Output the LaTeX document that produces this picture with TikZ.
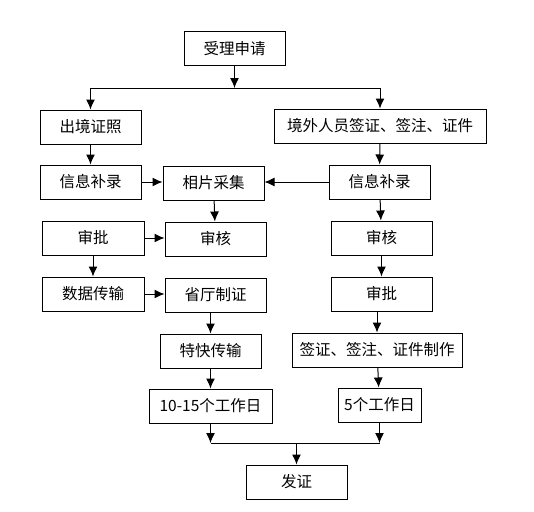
\documentclass[tikz,border=0pt]{standalone}
\usepackage{fontspec}
\setmainfont{Noto Sans CJK SC}
\usepackage{tikz}
\usetikzlibrary{arrows.meta, positioning, calc}
\newcommand{\boxh}{34pt}
\newcommand{\size}{\fontsize{15.5}{18}\selectfont}
\tikzset{
%     shape
    box/.style={draw, line width=1pt, minimum width=#1, minimum height=\boxh, inner sep=0pt, font=\size, anchor=center},
    arrow/.style={-{Latex[length=10pt, width=9pt]}, line width=1pt},
    line/.style={line width=1pt},
}
\begin{document}
\begin{tikzpicture}[x=1pt, y=-1pt]
        \useasboundingbox (0,0) rectangle (534,511);
        % top
        \node (apply) [box=101pt, minimum height=33pt] at (234.5,48.5) {受理申请};
        \node (exit) [box=101pt] at (90.5,127) {出境证照};
        \node (foreign) [box=212pt] at (380,126) {境外人员签证、签注、证件};
        % left column
        \node (infoL) [box=101pt] at (90.5,182) {信息补录};
        \node (approveL) [box=102pt] at (93,238) {审批};
        \node (data) [box=102pt] at (93,294) {数据传输};
        % middle column
        \node (photo) [box=101pt] at (213.5,183) {相片采集};
        \node (reviewM) [box=101pt] at (215.5,239) {审核};
        \node (prov) [box=101pt] at (215.5,295) {省厅制证};
        \node (express) [box=101pt] at (210.5,351) {特快传输};
        \node (days15) [box=123pt] at (210.5,406) {10-15个工作日};
        % right column
        \node (infoR) [box=101pt] at (379.5,182) {信息补录};
        \node (reviewR) [box=101pt] at (381.5,238) {审核};
        \node (approveR) [box=101pt] at (381.5,294) {审批};
        \node (make) [box=170pt] at (377,350) {签证、签注、证件制作};
        \node (days5) [box=83pt] at (379.5,405) {5个工作日};
        % bottom
        \node (issue) [box=101pt] at (296.5,482) {发证};
        % split and join
        \coordinate (split) at (apply|-0,88);
        \coordinate (splitL) at (exit|-split);
        \coordinate (splitR) at (foreign|-split);
        \coordinate (joinL) at (days15|-0,443);
        \coordinate (joinR) at (days5|-joinL);
        \coordinate (join) at (issue|-joinL);
        % links
        \draw[arrow] (apply) -- (split);
        \draw[line] (splitL) -- (splitR);
        \draw[arrow] (splitL) -- (exit);
        \draw[arrow] (splitR) -- (foreign);
        \draw[arrow] (exit) -- (infoL);
        \draw[arrow] (foreign) -- (infoR);
        \draw[arrow] (infoL.east) -- (infoL.east-|photo.west);
        \draw[arrow] (infoR.west) -- (infoR.west-|photo.east);
        \draw[arrow] (photo) -- (reviewM);
        \draw[arrow] (approveL.east) -- (approveL.east-|reviewM.west);
        \draw[arrow] (approveL) -- (data);
        \draw[arrow] (data.east) -- (data.east-|prov.west);
        \draw[arrow] (express.north|-prov.south) -- (express.north);
        \draw[arrow] (express) -- (days15);
        \draw[arrow] (infoR) -- (reviewR);
        \draw[arrow] (reviewR) -- (approveR);
        \draw[arrow] (make.north|-approveR.south) -- (make.north);
        \draw[arrow] (make) -- (days5);
        \draw[arrow] (days15) -- (joinL);
        \draw[arrow] (days5) -- (joinR);
        \draw[line] (joinL) -- (joinR);
        \draw[arrow] (join) -- (issue);
    \end{tikzpicture}
\end{document}
